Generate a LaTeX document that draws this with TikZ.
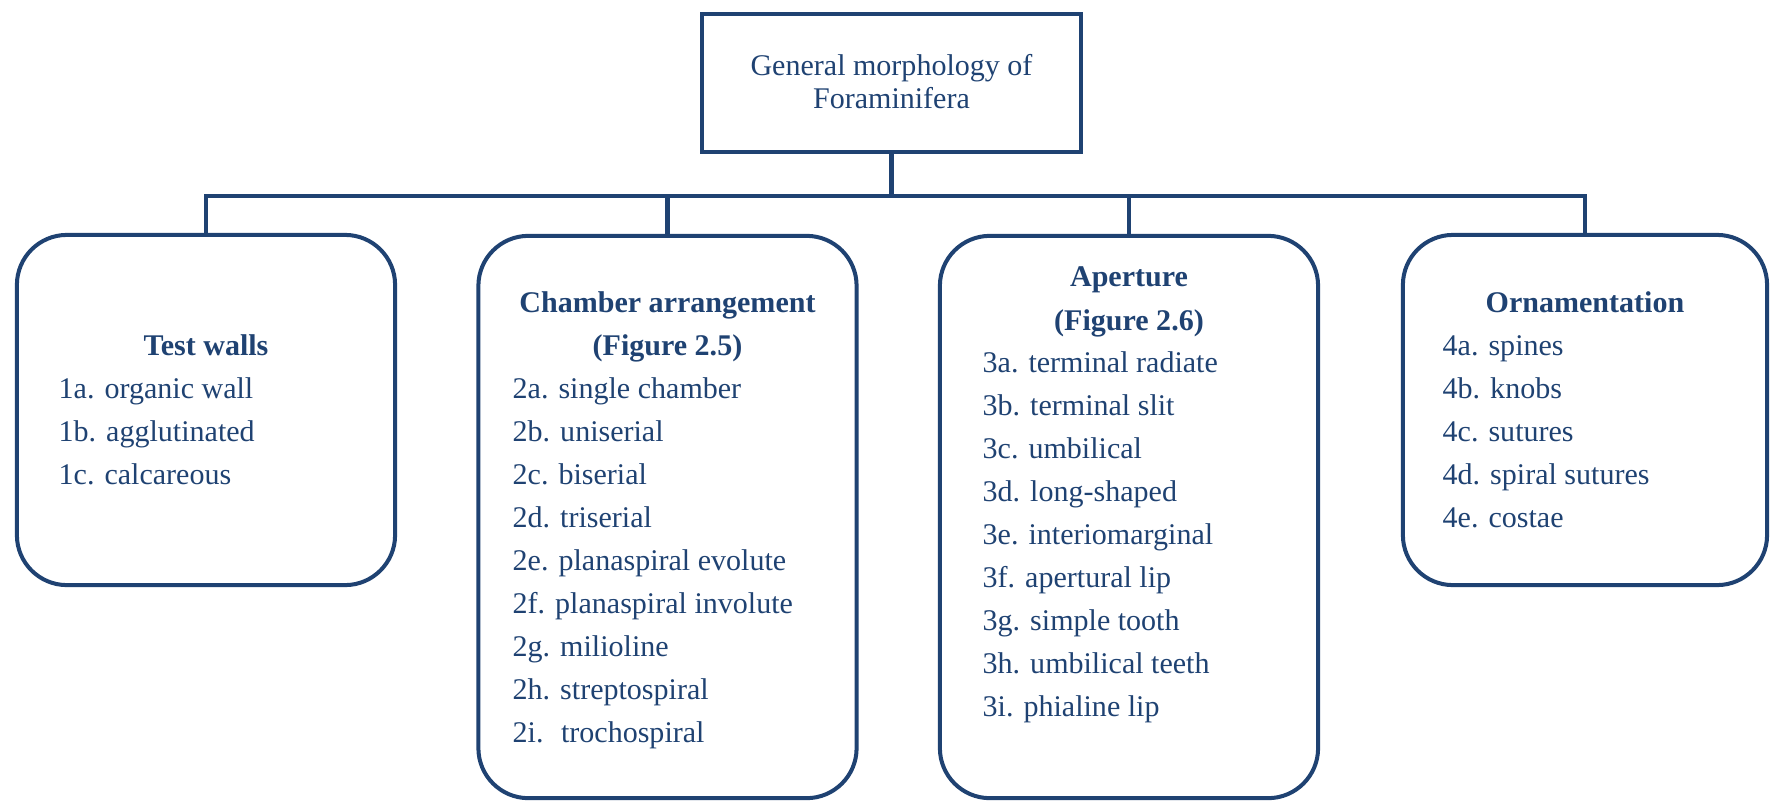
\documentclass[tikz,border=0pt]{standalone}
\usepackage{fontspec}
\setmainfont{Liberation Serif}
\definecolor{navy}{HTML}{1F4272}

\begin{document}
\begin{tikzpicture}[
    x=0.01cm, y=-0.01cm,
    every node/.style={text=navy, font=\fontsize{8.54}{10}\selectfont},
    rootbox/.style={draw=navy, line width=1.14pt, minimum width=3.79cm, minimum height=1.38cm},
    groupbox/.style={draw=navy, line width=1.14pt, rounded corners=0.5cm, minimum width=3.78cm},
    head/.style={anchor=base, inner sep=0pt, font=\fontsize{8.54}{10}\selectfont\bfseries},
    item/.style={anchor=base west, inner sep=0pt},
    link/.style={draw=navy, line width=1.14pt}
]
    \useasboundingbox (0,0) rectangle (1771,802);

    % main box
    \node[rootbox] (root) at (891.5,83) {};
    \node[anchor=base, inner sep=0pt] (root1) at (891.5,75) {General morphology of};
    \node[anchor=base, inner sep=0pt] (root2) at (891.5,108) {Foraminifera};

    % the four groups
    \node[groupbox, minimum height=3.5cm] (walls) at (206,410) {};
    \node[groupbox, minimum height=5.62cm] (chamber) at (667.5,517) {};
    \node[groupbox, minimum height=5.62cm] (aperture) at (1129,517) {};
    \node[groupbox, minimum height=3.5cm, minimum width=3.64cm] (ornament) at (1585,410) {};

    \draw[link] (root.south) -- ++(0,42) -| (walls.north);
    \draw[link] (root.south) -- ++(0,42) -| (chamber.north);
    \draw[link] (root.south) -- ++(0,42) -| (aperture.north);
    \draw[link] (root.south) -- ++(0,42) -| (ornament.north);

    % headings
    \node[head] (wallsh) at (206,355) {Test walls};
    \node[head] (chamberh) at (667.5,312) {Chamber arrangement};
    \node[head] (chamberf) at (667.5,355) {(Figure 2.5)};
    \node[head] (apertureh) at (1129,286) {Aperture};
    \node[head] (aperturef) at (1129,330) {(Figure 2.6)};
    \node[head] (ornamenth) at (1585,312) {Ornamentation};

    % lists
    \foreach \t [count=\i from 0] in {1a. organic wall, 1b. agglutinated, 1c. calcareous}
        \node[item] (w\i) at (58,398+43*\i) {\t};
    \foreach \t [count=\i from 0] in {2a. single chamber, 2b. uniserial, 2c. biserial,
        2d. triserial, 2e. planaspiral evolute, 2f. planaspiral involute,
        2g. milioline, 2h. streptospiral, 2i.~ trochospiral}
        \node[item] (c\i) at (512,398+43*\i) {\t};
    \foreach \t [count=\i from 0] in {3a. terminal radiate, 3b. terminal slit, 3c. umbilical,
        3d. long-shaped, 3e. interiomarginal, 3f. apertural lip,
        3g. simple tooth, 3h. umbilical teeth, 3i. phialine lip}
        \node[item] (a\i) at (982,372+43*\i) {\t};
    \foreach \t [count=\i from 0] in {4a. spines, 4b. knobs, 4c. sutures,
        4d. spiral sutures, 4e. costae}
        \node[item] (o\i) at (1442,355+43*\i) {\t};
\end{tikzpicture}
\end{document}
